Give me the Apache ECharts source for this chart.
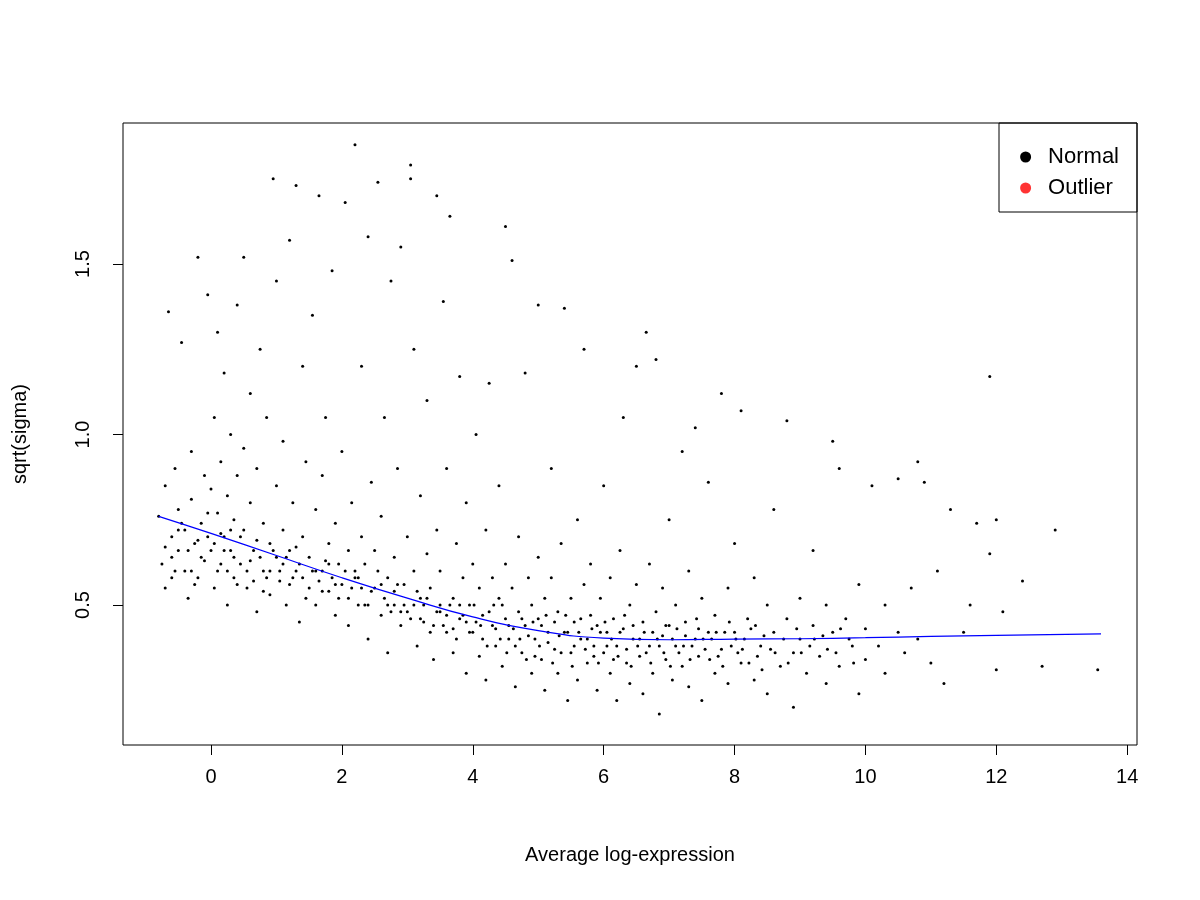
<!DOCTYPE html>
<html><head><meta charset="utf-8">
<script src="https://cdn.jsdelivr.net/npm/echarts@6/dist/echarts.min.js"></script>
<style>html,body{margin:0;background:#fff}#c{width:1200px;height:900px}</style>
</head><body><div id="c"></div>
<script>
// Average log-expression (x) and sqrt(sigma) (y) (a representative subset)
const normalPoints = [
[-0.8,0.76],[-0.75,0.62],[-0.7,0.85],[-0.7,0.55],[-0.65,1.36],[-0.6,0.7],[-0.6,0.58],[-0.55,0.9],[-0.5,0.66],[-0.5,0.78],[-0.45,1.27],[-0.4,0.6],[-0.4,0.72],[-0.35,0.52],[-0.3,0.81],[-0.3,0.95],[-0.25,0.68],[-0.2,0.58],[-0.2,1.52],[-0.15,0.74],[-0.1,0.88],[-0.1,0.63],[-0.05,1.41],[-0.05,0.7],
[0,0.66],[0,0.84],[0.05,1.05],[0.05,0.55],[0.1,0.77],[0.1,1.3],[0.15,0.62],[0.15,0.92],[0.2,0.7],[0.2,1.18],[0.25,0.5],[0.25,0.82],[0.3,0.66],[0.3,1.0],[0.35,0.58],[0.35,0.75],[0.4,1.38],[0.4,0.88],[0.45,0.62],[0.5,0.72],[0.5,0.96],[0.5,1.52],[0.55,0.55],[0.6,0.8],[0.6,1.12],[0.65,0.66],[0.7,0.48],[0.7,0.9],[0.75,1.25],[0.8,0.6],[0.8,0.74],[0.85,1.05],[0.9,0.53],[0.9,0.68],[0.95,1.75],[1.0,0.64],[1.0,0.85],[1.0,1.45],
[1.05,0.57],[1.1,0.72],[1.1,0.98],[1.15,0.5],[1.2,1.57],[1.2,0.66],[1.25,0.8],[1.3,1.73],[1.3,0.6],[1.35,0.45],[1.4,0.7],[1.4,1.2],[1.45,0.92],[1.5,0.55],[1.5,0.64],[1.55,1.35],[1.6,0.78],[1.6,0.5],[1.65,1.7],[1.7,0.6],[1.7,0.88],[1.75,1.05],[1.8,0.54],[1.8,0.68],[1.85,1.48],[1.9,0.47],[1.9,0.74],[1.95,0.62],[2.0,0.56],[2.0,0.95],[2.05,1.68],[2.1,0.66],[2.1,0.44],[2.15,0.8],
[2.2,1.85],[2.2,0.58],[2.25,0.5],[2.3,1.2],[2.3,0.7],[2.35,0.62],[2.4,0.4],[2.4,1.58],[2.45,0.86],[2.5,0.55],[2.5,0.66],[2.55,1.74],[2.6,0.47],[2.6,0.76],[2.65,1.05],[2.7,0.58],[2.7,0.36],[2.75,1.45],[2.8,0.5],[2.8,0.64],[2.85,0.9],[2.9,0.44],[2.9,1.55],[2.95,0.56],[3.0,0.7],[3.0,0.48],[3.05,1.79],[3.05,1.75],[3.1,0.6],[3.1,1.25],[3.15,0.38],[3.2,0.52],[3.2,0.82],[3.25,0.45],[3.3,0.65],[3.3,1.1],[3.35,0.55],[3.4,0.34],[3.45,1.7],[3.45,0.72],[3.5,0.48],[3.5,0.6],[3.55,1.39],[3.6,0.42],[3.6,0.9],[3.65,1.64],[3.7,0.52],[3.7,0.36],[3.75,0.68],[3.8,1.17],[3.8,0.46],[3.85,0.58],[3.9,0.3],[3.9,0.8],[3.95,0.5],
[4.0,0.42],[4.0,0.62],[4.05,1.0],[4.1,0.35],[4.1,0.55],[4.15,0.47],[4.2,0.72],[4.2,0.28],[4.25,1.15],[4.3,0.44],[4.3,0.58],[4.35,0.38],[4.4,0.52],[4.4,0.85],[4.45,0.32],[4.5,1.61],[4.5,0.46],[4.5,0.62],[4.55,0.4],[4.6,1.51],[4.6,0.55],[4.65,0.26],[4.7,0.48],[4.7,0.7],[4.75,0.36],[4.8,0.44],[4.8,1.18],[4.85,0.58],[4.9,0.3],[4.9,0.5],[4.95,0.4],[5.0,1.38],[5.0,0.46],[5.0,0.64],[5.05,0.34],[5.1,0.52],[5.1,0.25],[5.15,0.42],[5.2,0.9],[5.2,0.58],[5.25,0.37],[5.3,0.48],[5.3,0.3],[5.35,0.68],[5.4,0.42],[5.4,1.37],[5.45,0.22],[5.5,0.52],[5.5,0.36],[5.55,0.45],[5.6,0.75],[5.6,0.28],[5.65,0.4],[5.7,0.56],[5.7,1.25],[5.75,0.33],[5.8,0.47],[5.8,0.62],[5.85,0.38],[5.9,0.25],[5.9,0.44],[5.95,0.52],
[6.0,0.36],[6.0,0.85],[6.05,0.42],[6.1,0.3],[6.1,0.58],[6.15,0.46],[6.2,0.22],[6.2,0.38],[6.25,0.66],[6.3,0.43],[6.3,1.05],[6.35,0.33],[6.4,0.5],[6.4,0.27],[6.45,0.4],[6.5,1.2],[6.5,0.56],[6.55,0.35],[6.6,0.45],[6.6,0.24],[6.65,1.3],[6.7,0.38],[6.7,0.62],[6.75,0.3],[6.8,0.48],[6.8,1.22],[6.85,0.18],[6.9,0.41],[6.9,0.55],[6.95,0.34],[7.0,0.44],[7.0,0.75],[7.05,0.28],[7.1,0.5],[7.1,0.38],[7.2,0.95],[7.2,0.32],[7.25,0.45],[7.3,0.6],[7.3,0.26],[7.4,0.4],[7.4,1.02],[7.45,0.35],[7.5,0.52],[7.5,0.22],[7.6,0.42],[7.6,0.86],[7.7,0.3],[7.7,0.47],[7.8,0.37],[7.8,1.12],[7.9,0.55],[7.9,0.27],[8.0,0.42],[8.0,0.68],
[8.1,0.33],[8.1,1.07],[8.2,0.46],[8.3,0.28],[8.3,0.58],[8.4,0.38],[8.5,0.5],[8.5,0.24],[8.6,0.42],[8.6,0.78],[8.7,0.32],[8.8,1.04],[8.8,0.46],[8.9,0.2],[8.9,0.36],[9.0,0.52],[9.0,0.4],[9.1,0.3],[9.2,0.66],[9.2,0.44],[9.3,0.35],[9.4,0.5],[9.4,0.27],[9.5,0.42],[9.5,0.98],[9.6,0.9],[9.6,0.32],[9.7,0.46],[9.8,0.38],[9.9,0.56],[9.9,0.24],[10.0,0.43],[10.0,0.34],
[10.1,0.85],[10.2,0.38],[10.3,0.5],[10.3,0.3],[10.5,0.87],[10.5,0.42],[10.6,0.36],[10.7,0.55],[10.8,0.92],[10.8,0.4],[10.9,0.86],[11.0,0.33],[11.1,0.6],[11.2,0.27],[11.3,0.78],[11.5,0.42],[11.6,0.5],[11.7,0.74],[11.9,1.17],[11.9,0.65],[12.0,0.75],[12.0,0.31],[12.1,0.48],[12.4,0.57],[12.7,0.32],[12.9,0.72],[13.55,0.31]
];
// dense core of the cloud
const corePoints = [
[-0.6,0.64],[-0.5,0.72],[-0.3,0.6],[-0.2,0.69],[0.1,0.6],[0.2,0.66],[0.3,0.72],[0.4,0.56],[0.6,0.63],[0.7,0.69],[0.8,0.54],[0.9,0.6],[1.1,0.62],[1.2,0.56],[1.3,0.67],[1.4,0.58],[1.6,0.6],[1.7,0.54],[1.8,0.62],[1.9,0.56],[2.1,0.52],[2.2,0.6],[2.3,0.55],[2.4,0.5],[2.6,0.56],[2.7,0.5],[2.8,0.54],[2.9,0.48],[3.1,0.5],[3.2,0.46],[3.3,0.52],[3.4,0.44],[3.5,0.5],[3.6,0.47],[3.7,0.43],[3.8,0.5],[3.9,0.45],
[4.05,0.45],[4.15,0.4],[4.25,0.48],[4.35,0.43],[4.45,0.5],[4.55,0.44],[4.65,0.38],[4.75,0.46],[4.85,0.41],[4.95,0.35],[5.05,0.44],[5.15,0.39],[5.25,0.45],[5.35,0.36],[5.45,0.42],[5.55,0.38],[5.65,0.46],[5.75,0.4],[5.85,0.35],[5.95,0.42],[6.05,0.38],[6.15,0.34],[6.25,0.42],[6.35,0.37],[6.45,0.44],[6.55,0.4],[6.65,0.36],[6.75,0.42],[6.85,0.38],[6.95,0.44],[7.05,0.4],[7.15,0.36],[7.25,0.41],[7.35,0.38],[7.45,0.43],[7.55,0.37],[7.65,0.4],[7.75,0.35],[7.85,0.42],[7.95,0.38],[8.05,0.36],[8.15,0.4],[8.25,0.43],[8.35,0.35],[8.45,0.41],[8.55,0.37],[8.75,0.4],[8.95,0.43],[9.15,0.38],[9.35,0.41],[9.55,0.36],[9.75,0.4]
];
const densePoints = [
[-0.7,0.67],[-0.55,0.6],[-0.45,0.74],[-0.35,0.66],[-0.25,0.56],[-0.15,0.64],[-0.05,0.77],[0.05,0.68],[0.15,0.71],[0.25,0.6],[0.35,0.64],[0.45,0.7],[0.55,0.6],[0.65,0.57],[0.75,0.64],[0.85,0.58],[0.95,0.66],[1.05,0.6],[1.15,0.64],[1.25,0.58],[1.35,0.62],[1.45,0.52],[1.55,0.6],[1.65,0.57],[1.75,0.63],[1.85,0.58],[1.95,0.52],[2.05,0.6],[2.15,0.55],[2.25,0.58],[2.35,0.5],[2.45,0.54],[2.55,0.6],[2.65,0.52],[2.75,0.48],[2.85,0.56],[2.95,0.5],[3.05,0.46],[3.15,0.54],[3.25,0.5],[3.35,0.42],[3.45,0.48],[3.55,0.44],[3.65,0.5],[3.75,0.4],[3.85,0.47],[3.95,0.42],
[4.02,0.5],[4.12,0.44],[4.22,0.38],[4.32,0.5],[4.42,0.4],[4.52,0.36],[4.62,0.43],[4.72,0.4],[4.82,0.34],[4.92,0.45],[5.02,0.38],[5.12,0.47],[5.22,0.33],[5.32,0.41],[5.42,0.47],[5.52,0.32],[5.62,0.42],[5.72,0.37],[5.82,0.43],[5.92,0.33],[6.02,0.45],[6.12,0.4],[6.22,0.35],[6.32,0.47],[6.42,0.32],[6.52,0.38],[6.62,0.42],[6.72,0.33],[6.82,0.4],[6.92,0.36],[7.02,0.32],[7.12,0.43],[7.22,0.38],[7.32,0.34],[7.42,0.46],[7.52,0.4],[7.62,0.34],[7.72,0.42],[7.82,0.32],[7.92,0.45],[8.02,0.4],[8.12,0.37],[8.22,0.33],[8.32,0.44],[8.42,0.31],[8.62,0.36],[8.82,0.33],[9.02,0.36],[9.22,0.4],[9.42,0.37],[9.62,0.43],[9.82,0.33]
];
const trendX = [-0.8,0,1,2,3,4,5,6,7,8,9,10,11,12,13.6];
const trendY = [0.76,0.71,0.645,0.58,0.52,0.465,0.425,0.403,0.398,0.4,0.401,0.404,0.408,0.411,0.415];
const xTicks = [0,2,4,6,8,10,12,14];
const yTicks = [0.5,1.0,1.5];

const chart = echarts.init(document.getElementById('c'));
const F = 'Liberation Sans, Arial, sans-serif';
chart.setOption({
  animation:false,
  grid:{left:123,right:63,top:123,bottom:155,containLabel:false,outerBoundsMode:'none',show:true,borderColor:'#000',borderWidth:1,backgroundColor:'transparent'},
  xAxis:{type:'value',min:-1.345,max:14.15,name:'Average log-expression',nameLocation:'middle',nameGap:100,
    nameTextStyle:{fontFamily:F,fontSize:20,color:'#000'},
    axisLine:{show:false,onZero:false},splitLine:{show:false},
    axisTick:{show:true,length:10,lineStyle:{color:'#000'},customValues:xTicks},
    axisLabel:{fontFamily:F,fontSize:20,color:'#000',margin:22,customValues:xTicks}},
  yAxis:{type:'value',min:0.0894,max:1.9135,name:'sqrt(sigma)',nameLocation:'middle',nameGap:93,
    nameTextStyle:{fontFamily:F,fontSize:20,color:'#000'},
    axisLine:{show:false,onZero:false},splitLine:{show:false},
    axisTick:{show:true,length:10,lineStyle:{color:'#000'},customValues:yTicks},
    axisLabel:{fontFamily:F,fontSize:20,color:'#000',rotate:90,margin:30,customValues:yTicks,formatter:v=>v.toFixed(1)}},
  legend:{right:76,top:141,orient:'vertical',itemGap:9,itemWidth:11,itemHeight:11,
    textStyle:{fontFamily:F,fontSize:22,color:'#000',padding:[0,0,0,12]},
    data:[{name:'Normal',icon:'circle',itemStyle:{color:'#000'}},{name:'Outlier',icon:'circle',itemStyle:{color:'#ff0000'}}]},
  graphic:[{type:'rect',shape:{x:999,y:123,width:138,height:89},style:{fill:'none',stroke:'#000',lineWidth:1}}],
  series:[
    {name:'Normal',type:'scatter',symbolSize:3,itemStyle:{color:'#000',opacity:1},data:normalPoints.concat(corePoints,densePoints)},
    {name:'Outlier',type:'scatter',symbolSize:3,itemStyle:{color:'#ff0000'},data:[]},
    {type:'line',data:trendX.map((x,i)=>[x,trendY[i]]),smooth:true,showSymbol:false,lineStyle:{color:'#0000ff',width:1.2}}
  ]
});
</script></body></html>
